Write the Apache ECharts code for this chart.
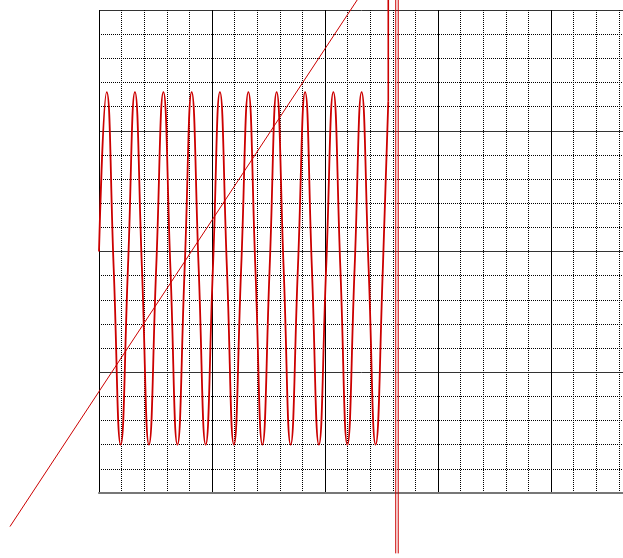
<!DOCTYPE html>
<html>
<head>
<meta charset="utf-8">
<title>Waveform</title>
<script src="https://cdn.jsdelivr.net/npm/echarts@6/dist/echarts.min.js"></script>
<style>
  html, body { margin: 0; padding: 0; background: #ffffff; }
  #chart { width: 623px; height: 558px; }
</style>
</head>
<body>
<div id="chart"></div>
<script>
// Axis extents in screen divisions: 5 major x 5 minor horizontally, 4 major x 5 minor vertically
const xRange = [0, 25];
const yRange = [-10, 10];
const majorStep = 5;

// Sampled signal: start, then peak / falling crossing / trough / rising crossing per cycle
const waveX = [
  0.00, 0.34, 0.65, 0.96,
  1.28, 1.59, 1.90, 2.21,
  2.53, 2.85, 3.16, 3.47,
  3.79, 4.10, 4.41, 4.72,
  5.04, 5.35, 5.66, 5.97,
  6.29, 6.61, 6.92, 7.23,
  7.55, 7.86, 8.17, 8.48,
  8.80, 9.12, 9.42, 9.73,
  10.05, 10.37, 10.68, 10.99,
  11.31, 11.62, 11.93, 12.24,
  12.56, 12.80
];
const waveY = [
  0.0, 6.6, -0.7, -8.0,
  -0.7, 6.6, -0.7, -8.0,
  -0.7, 6.6, -0.7, -8.0,
  -0.7, 6.6, -0.7, -8.0,
  -0.7, 6.6, -0.7, -8.0,
  -0.7, 6.6, -0.7, -8.0,
  -0.7, 6.6, -0.7, -8.0,
  -0.7, 6.6, -0.7, -8.0,
  -0.7, 6.6, -0.7, -8.0,
  -0.7, 6.6, -0.7, -8.0,
  -0.7, 6.2
];

// Overrange spike at the end of the record
const spikeX = [12.80, 12.80];
const spikeY = [6.2, 60];

// Vertical cursor pair
const cursorX = [13.13, 13.24];
const cursorBottom = -12.5;
const cursorTop = 60;

// Straight reference ramp
const rampX = [-3.94, 14.0];
const rampY = [-11.39, 14.07];

// Screen layout of the graticule
const W = 623, H = 558;
const plot = { left: 99, top: 10, width: 565, height: 483 };
const pxPerX = plot.width / (xRange[1] - xRange[0]);
const pxPerY = plot.height / (yRange[1] - yRange[0]);

// A second, invisible coordinate system spanning the whole canvas, aligned
// with the graticule, for the traces that run past its edges.
const fullX = [
  xRange[0] - plot.left / pxPerX,
  xRange[0] + (W - plot.left) / pxPerX
];
const fullY = [
  yRange[0] - (H - plot.top - plot.height) / pxPerY,
  yRange[1] + plot.top / pxPerY
];

const red = '#cc0000';
const zip = (xs, ys) => xs.map((x, i) => [x, ys[i]]);

const series = [
  {
    type: 'line', data: zip(waveX, waveY), smooth: 0.5, symbol: 'none',
    lineStyle: { color: red, width: 1.8 }, z: 5
  },
  {
    type: 'line', data: zip(spikeX, spikeY), symbol: 'none', clip: false,
    xAxisIndex: 1, yAxisIndex: 1,
    lineStyle: { color: red, width: 1.6 }, z: 5
  },
  {
    type: 'line', data: zip(rampX, rampY), symbol: 'none', clip: false,
    xAxisIndex: 1, yAxisIndex: 1,
    lineStyle: { color: red, width: 1 }, z: 4
  }
].concat(cursorX.map(x => ({
  type: 'line', data: [[x, cursorBottom], [x, cursorTop]], symbol: 'none', clip: false,
  xAxisIndex: 1, yAxisIndex: 1,
  lineStyle: { color: red, width: 1 }, z: 4
})));

const hiddenAxis = (range, gridIndex) => ({
  type: 'value', gridIndex: gridIndex, min: range[0], max: range[1], show: false,
  splitLine: { show: false }
});

const chart = echarts.init(document.getElementById('chart'), null, { renderer: 'canvas' });
chart.setOption({
  animation: false,
  backgroundColor: '#ffffff',
  grid: [
    { left: plot.left, top: plot.top, width: plot.width, height: plot.height,
      containLabel: false, outerBoundsMode: 'none' },
    { left: 0, top: 0, width: W, height: H, containLabel: false, outerBoundsMode: 'none' }
  ],
  xAxis: [{
    type: 'value', gridIndex: 0, min: xRange[0], max: xRange[1], interval: majorStep,
    axisLabel: { show: false }, axisTick: { show: false },
    axisLine: { show: true, onZero: false, lineStyle: { color: '#777777', width: 2 } },
    splitLine: { show: true, lineStyle: { color: '#000000', width: 1, type: 'solid' } },
    minorTick: { show: false, splitNumber: 5 },
    minorSplitLine: { show: true, lineStyle: { color: '#000000', width: 1, type: 'dotted' } }
  }, hiddenAxis(fullX, 1)],
  yAxis: [{
    type: 'value', gridIndex: 0, min: yRange[0], max: yRange[1], interval: majorStep,
    axisLabel: { show: false }, axisTick: { show: false },
    axisLine: { show: false },
    splitLine: { show: true, lineStyle: { color: '#333333', width: 1, type: 'solid' } },
    minorTick: { show: false, splitNumber: 5 },
    minorSplitLine: { show: true, lineStyle: { color: '#000000', width: 1, type: 'dotted' } }
  }, hiddenAxis(fullY, 1)],
  series: series
});
</script>
</body>
</html>
